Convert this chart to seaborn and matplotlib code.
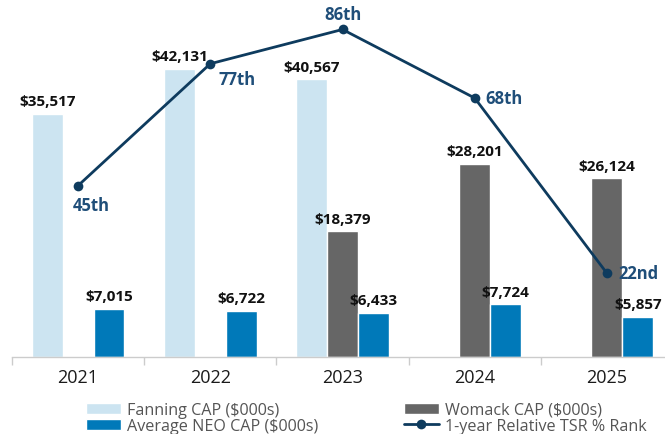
import matplotlib
matplotlib.use("Agg")
import matplotlib.pyplot as plt
from matplotlib.ticker import FixedLocator
from matplotlib.patches import Patch
from matplotlib.lines import Line2D
import numpy as np
import pandas as pd
import seaborn as sns

# Data
years = ["2021", "2022", "2023", "2024", "2025"]
fanning_cap = [35517, 42131, 40567, np.nan, np.nan]
womack_cap = [np.nan, np.nan, 18379, 28201, 26124]
neo_cap = [7015, 6722, 6433, 7724, 5857]
tsr_rank = [45, 77, 86, 68, 22]
rank_labels = ["45th", "77th", "86th", "68th", "22nd"]

series_names = ["Fanning CAP ($000s)", "Womack CAP ($000s)", "Average NEO CAP ($000s)"]
line_name = "1-year Relative TSR % Rank"

c_fanning = "#CCE4F1"
c_womack = "#666666"
c_neo = "#0079B9"
c_line = "#0E3B5E"

sns.set_theme(style="white")
plt.rcParams["font.family"] = ["Open Sans", "DejaVu Sans"]

df = pd.DataFrame({
    "year": years * 3,
    "series": sum([[s] * len(years) for s in series_names], []),
    "value": fanning_cap + womack_cap + neo_cap,
})

fig = plt.figure(figsize=(6.65, 4.35), dpi=100)
W, H = 665, 435
left_px, right_px, bottom_px, top_px = 12, 673, 358, 0
ax = fig.add_axes([left_px / W, 1 - bottom_px / H,
                   (right_px - left_px) / W, (bottom_px - top_px) / H])

sns.barplot(data=df, x="year", y="value", hue="series", order=years,
            hue_order=series_names,
            palette=[c_fanning, c_womack, c_neo], width=0.7,
            saturation=1, ax=ax, legend=False)

for cont in ax.containers:
    ax.bar_label(cont, fmt=lambda v: f"${v:,.0f}", padding=4,
                 fontsize=11, fontweight="bold", color="#111111")

ax.set_ylim(0, 52300)
ax.set_xlim(-0.5, 4.5)
ax.set_xlabel("")
ax.set_ylabel("")
ax.set_yticks([])
for s in ["left", "right", "top"]:
    ax.spines[s].set_visible(False)
ax.spines["bottom"].set_color("#CCCCCC")
ax.spines["bottom"].set_linewidth(1.0)
ax.tick_params(axis="x", which="major", length=0, pad=8,
               labelsize=13, labelcolor="#1A1A1A")
ax.xaxis.set_minor_locator(FixedLocator(np.arange(-0.5, 5.0, 1.0)))
ax.tick_params(axis="x", which="minor", length=6, width=1.0,
               color="#CCCCCC", bottom=True)

# TSR rank line on a secondary axis
ax2 = ax.twinx()
xpos = np.arange(len(years))
sns.lineplot(x=xpos, y=tsr_rank, ax=ax2, color=c_line, linewidth=2,
             marker="o", markersize=7, markeredgewidth=0)
ax2.set_ylim(0, 94)
ax2.set_yticks([])
ax2.set_ylabel("")
for s in ["left", "right", "top", "bottom"]:
    ax2.spines[s].set_visible(False)

offsets = [(-4, -14, "left", "center"), (6, -11, "left", "center"),
           (0, 11, "center", "center"), (8, 0, "left", "center"),
           (8, 0, "left", "center")]
for x, r, lab, (dx, dy, ha, va) in zip(xpos, tsr_rank, rank_labels, offsets):
    ax2.annotate(lab, (x, r), xytext=(dx, dy), textcoords="offset points",
                 ha=ha, va=va, fontsize=12, fontweight="bold",
                 color="#1F4E79")

handles = [
    Patch(facecolor=c_fanning, label=series_names[0]),
    Patch(facecolor=c_neo, label=series_names[2]),
    Patch(facecolor=c_womack, label=series_names[1]),
    Line2D([0], [0], color=c_line, lw=2, marker="o", markersize=7,
           markeredgewidth=0, label=line_name),
]
fig.legend(handles=handles, ncol=2, loc="lower left",
           bbox_to_anchor=(86 / W, 0.0), frameon=False, fontsize=11.6,
           labelcolor="#555555", handlelength=2.2, handleheight=0.7,
           handletextpad=0.35, columnspacing=5.3, labelspacing=0.0,
           borderpad=0.0, borderaxespad=0.0)

fig.savefig("out.png", dpi=100)
